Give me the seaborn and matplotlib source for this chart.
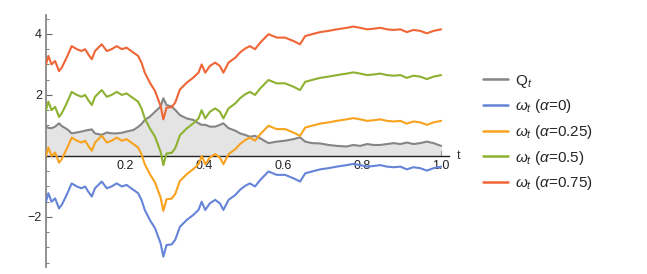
import numpy as np
import pandas as pd
import matplotlib
matplotlib.use("Agg")
import matplotlib.pyplot as plt
import seaborn as sns

# values
t = [0.000, 0.006, 0.014, 0.023, 0.033, 0.040, 0.048, 0.056, 0.065, 0.078,
     0.090, 0.099, 0.107, 0.116, 0.124, 0.141, 0.154, 0.166, 0.179, 0.192,
     0.204, 0.221, 0.233, 0.242, 0.250, 0.263, 0.276, 0.290, 0.297, 0.305,
     0.318, 0.327, 0.339, 0.356, 0.373, 0.386, 0.394, 0.403, 0.415, 0.428,
     0.440, 0.449, 0.462, 0.479, 0.491, 0.504, 0.516, 0.529, 0.542, 0.563,
     0.584, 0.605, 0.626, 0.643, 0.656, 0.673, 0.694, 0.715, 0.736, 0.761,
     0.778, 0.795, 0.813, 0.829, 0.846, 0.863, 0.880, 0.897, 0.913, 0.930,
     0.947, 0.964, 0.981, 1.000]

q_t = [0.96, 0.92, 0.91, 0.96, 1.07, 0.98, 0.92, 0.85, 0.74, 0.77,
       0.80, 0.83, 0.85, 0.87, 0.74, 0.69, 0.77, 0.74, 0.74, 0.76,
       0.80, 0.85, 0.95, 1.05, 1.18, 1.29, 1.45, 1.62, 1.89, 1.67,
       1.62, 1.51, 1.34, 1.23, 1.18, 1.07, 1.02, 1.02, 0.96, 0.96,
       1.02, 1.07, 0.91, 0.83, 0.74, 0.69, 0.63, 0.66, 0.58, 0.42,
       0.47, 0.50, 0.55, 0.61, 0.47, 0.42, 0.41, 0.36, 0.33, 0.31,
       0.36, 0.33, 0.39, 0.36, 0.36, 0.39, 0.42, 0.39, 0.44, 0.39,
       0.42, 0.47, 0.42, 0.33]

w_a000 = [-1.50, -1.22, -1.50, -1.39, -1.72, -1.60, -1.39, -1.17, -0.90, -1.00,
          -1.06, -1.00, -1.17, -1.33, -1.06, -0.84, -1.06, -1.00, -0.90, -1.00,
          -0.95, -1.11, -1.22, -1.45, -1.77, -2.10, -2.37, -2.86, -3.30, -2.92,
          -2.90, -2.75, -2.32, -2.10, -1.93, -1.77, -1.50, -1.77, -1.55, -1.44,
          -1.55, -1.77, -1.44, -1.28, -1.11, -0.98, -0.90, -1.00, -0.79, -0.51,
          -0.62, -0.62, -0.73, -0.84, -0.57, -0.51, -0.44, -0.40, -0.35, -0.30,
          -0.26, -0.30, -0.35, -0.33, -0.30, -0.35, -0.37, -0.35, -0.44, -0.37,
          -0.40, -0.48, -0.40, -0.35]

w_a025 = [0.00, 0.28, 0.00, 0.11, -0.22, -0.10, 0.11, 0.33, 0.60, 0.50,
          0.44, 0.50, 0.33, 0.17, 0.44, 0.66, 0.44, 0.50, 0.60, 0.50,
          0.55, 0.39, 0.28, 0.05, -0.27, -0.60, -0.87, -1.36, -1.80, -1.42,
          -1.40, -1.25, -0.82, -0.60, -0.43, -0.27, 0.00, -0.27, -0.05, 0.06,
          -0.05, -0.27, 0.06, 0.22, 0.39, 0.52, 0.60, 0.50, 0.71, 0.99,
          0.88, 0.88, 0.77, 0.66, 0.93, 0.99, 1.06, 1.10, 1.15, 1.20,
          1.24, 1.20, 1.15, 1.17, 1.20, 1.15, 1.13, 1.15, 1.06, 1.13,
          1.10, 1.02, 1.10, 1.15]

w_a050 = [1.50, 1.78, 1.50, 1.61, 1.28, 1.40, 1.61, 1.83, 2.10, 2.00,
          1.94, 2.00, 1.83, 1.67, 1.94, 2.16, 1.94, 2.00, 2.10, 2.00,
          2.05, 1.89, 1.78, 1.55, 1.23, 0.90, 0.63, 0.14, -0.30, 0.08,
          0.10, 0.25, 0.68, 0.90, 1.07, 1.23, 1.50, 1.23, 1.45, 1.56,
          1.45, 1.23, 1.56, 1.72, 1.89, 2.02, 2.10, 2.00, 2.21, 2.49,
          2.38, 2.38, 2.27, 2.16, 2.43, 2.49, 2.56, 2.60, 2.65, 2.70,
          2.74, 2.70, 2.65, 2.67, 2.70, 2.65, 2.63, 2.65, 2.56, 2.63,
          2.60, 2.52, 2.60, 2.65]

w_a075 = [3.00, 3.28, 3.00, 3.11, 2.78, 2.90, 3.11, 3.33, 3.60, 3.50,
          3.44, 3.50, 3.33, 3.17, 3.44, 3.66, 3.44, 3.50, 3.60, 3.50,
          3.55, 3.39, 3.28, 3.05, 2.73, 2.40, 2.13, 1.64, 1.20, 1.58,
          1.60, 1.75, 2.18, 2.40, 2.57, 2.73, 3.00, 2.73, 2.95, 3.06,
          2.95, 2.73, 3.06, 3.22, 3.39, 3.52, 3.60, 3.50, 3.71, 3.99,
          3.88, 3.88, 3.77, 3.66, 3.93, 3.99, 4.06, 4.10, 4.15, 4.20,
          4.24, 4.20, 4.15, 4.17, 4.20, 4.15, 4.13, 4.15, 4.06, 4.13,
          4.10, 4.02, 4.10, 4.15]

labels = [r"$\mathrm{Q}_t$",
          r"$\omega_t$ ($\alpha$=0)",
          r"$\omega_t$ ($\alpha$=0.25)",
          r"$\omega_t$ ($\alpha$=0.5)",
          r"$\omega_t$ ($\alpha$=0.75)"]
colors = ["#858585", "#6584d8", "#f8a21e", "#8db130", "#ef6536"]
series = [q_t, w_a000, w_a025, w_a050, w_a075]

sns.set_theme(style="white")
plt.rcParams["font.family"] = ["Liberation Sans", "DejaVu Sans"]
plt.rcParams["mathtext.fontset"] = "custom"
plt.rcParams["mathtext.rm"] = "Liberation Sans"
plt.rcParams["mathtext.it"] = "Liberation Sans:italic"

fig = plt.figure(figsize=(6.47, 2.74), dpi=100)
ax = fig.add_axes([46 / 647, 7 / 274, 403 / 647, 252 / 274])

ax.fill_between(t, 0, q_t, color="#e4e4e4", lw=0, zorder=1)

handles = []
for vals, lab, col in zip(series, labels, colors):
    df = pd.DataFrame({"t": t, "v": vals})
    sns.lineplot(data=df, x="t", y="v", ax=ax, color=col, lw=1.5,
                 estimator=None, sort=False, legend=False, zorder=3)
    handles.append(plt.Line2D([], [], color=col, lw=1.8))

ax.set_xlim(0, 1.02)
ax.set_ylim(-3.64, 4.62)
ax.set_xlabel("")
ax.set_ylabel("")

for s in ["top", "right"]:
    ax.spines[s].set_visible(False)
ax.spines["left"].set_position(("data", 0))
ax.spines["bottom"].set_position(("data", 0))
ax.spines["left"].set_color("#888888")
ax.spines["left"].set_linewidth(1.3)
ax.spines["bottom"].set_color("#222222")
ax.spines["bottom"].set_linewidth(1.0)
ax.spines["bottom"].set_zorder(2)

ax.set_xticks([0.2, 0.4, 0.6, 0.8, 1.0])
ax.set_xticklabels(["0.2", "0.4", "0.6", "0.8", "1.0"])
ax.set_xticks(np.arange(0.05, 1.01, 0.05), minor=True)
ax.set_yticks([-2, 2, 4])
ax.set_yticklabels(["\u22122", "2", "4"])
ax.set_yticks(np.arange(-3.5, 4.6, 0.5), minor=True)
ax.tick_params(axis="x", which="major", direction="in", length=4, width=0.8,
               color="#333333", labelsize=9, labelcolor="#222222", pad=3)
ax.tick_params(axis="x", which="minor", direction="in", length=2.5, width=0.6,
               color="#333333")
ax.tick_params(axis="y", which="major", direction="in", length=4, width=0.8,
               color="#666666", labelsize=9, labelcolor="#222222", pad=3)
ax.tick_params(axis="y", which="minor", direction="in", length=2.5, width=0.6,
               color="#666666")
ax.tick_params(bottom=True, left=True, which="both")

ax.text(1.04, 0.0, "t", fontsize=9, color="#333333", ha="left", va="center",
        transform=ax.transData, clip_on=False)

fig.legend(handles, labels, loc="upper left", bbox_to_anchor=(471 / 647, 1 - 60.5 / 274),
           frameon=False, fontsize=11, handlelength=1.6, handletextpad=0.5,
           labelspacing=0.5, borderpad=0.3)

fig.savefig("out.png", dpi=100)
